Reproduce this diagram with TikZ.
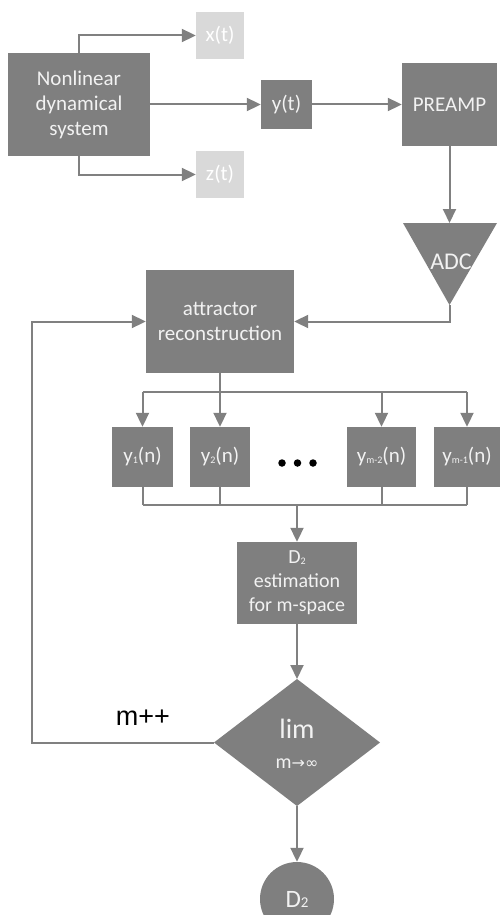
\documentclass[tikz,border=0pt]{standalone}
\usepackage{fontspec}
\setmainfont{Carlito}
\newfontfamily\arialfont{Liberation Sans}
\newfontfamily\symfont{DejaVu Sans}
\usetikzlibrary{arrows.meta}
\definecolor{boxgray}{HTML}{7F7F7F}
\definecolor{lightbox}{HTML}{D9D9D9}
\definecolor{linegray}{HTML}{808080}
\definecolor{txtlight}{HTML}{F2F2F2}
\newcommand{\sbs}[1]{{\fontsize{10}{10}\selectfont\raisebox{-0.5pt}{#1}}}
\begin{document}
\begin{tikzpicture}[x=1pt,y=-1pt,
  dbox/.style={fill=boxgray,draw=none,inner sep=0pt,text=txtlight,align=center,
    font=\fontsize{21}{25}\selectfont},
  lbox/.style={fill=lightbox,draw=none,inner sep=0pt,text=white,
    font=\fontsize{21}{25}\selectfont},
  arr/.style={draw=linegray,line width=2pt,-{Triangle[length=14pt,width=13pt]}},
  ln/.style={draw=linegray,line width=2pt},
  dotb/.style={circle,fill=black,inner sep=0pt,minimum size=7.5pt}]
\useasboundingbox (0,0) rectangle (501,915);

% top row
\node[dbox,minimum width=142pt,minimum height=103pt] (sys) at (79,104.5) {Nonlinear\\dynamical\\system};
\node[lbox,minimum width=48pt,minimum height=47pt] (xt) at (220,35.5) {x(t)};
\node[lbox,minimum width=48pt,minimum height=47pt] (zt) at (220,174.5) {z(t)};
\node[dbox,minimum width=51pt,minimum height=49pt] (yt) at (286.5,104.5) {y(t)};
\node[dbox,minimum width=95pt,minimum height=83pt] (pre) at (449.5,104.5) {PREAMP};

% ADC triangle
\coordinate (adcTL) at (403,223);
\coordinate (adcTR) at (497,223);
\coordinate (adcTop) at (449.5,223);
\coordinate (adcTip) at (449.5,305);
\fill[boxgray] (adcTL) -- (adcTR) -- (adcTip) -- cycle;
\node[text=txtlight,font=\fontsize{24}{24}\selectfont] (adc) at (451,262) {ADC};

% attractor
\node[dbox,minimum width=148pt,minimum height=103pt] (att) at (220,321.5) {attractor\\reconstruction};

% embedding boxes
\node[dbox,minimum width=61pt,minimum height=60pt] (y1) at (142.5,457) {y\sbs{1}(n)};
\node[dbox,minimum width=60pt,minimum height=60pt] (y2) at (220,457) {y\sbs{2}(n)};
\node[dbox,minimum width=69pt,minimum height=60pt] (ym2) at (381.5,457) {y\sbs{m-2}(n)};
\node[dbox,minimum width=66pt,minimum height=60pt] (ym1) at (467,457) {y\sbs{m-1}(n)};
\node[dotb] (d1) at (282,463) {};
\node[dotb] (d2) at (297.5,463) {};
\node[dotb] (d3) at (313,463) {};

% D2 estimation
\node[dbox,minimum width=120pt,minimum height=82pt,font=\fontsize{20}{24}\selectfont] (d2e) at (297,583) {D\sbs{2}\\estimation\\for m-space};

% diamond
\coordinate (dTop) at (297,679);
\coordinate (dRight) at (380,742.5);
\coordinate (dBot) at (297,806);
\coordinate (dLeft) at (214,742.5);
\fill[boxgray] (dTop) -- (dRight) -- (dBot) -- (dLeft) -- cycle;
\node[text=txtlight,inner sep=0pt,font=\fontsize{28}{28}\selectfont] (lim) at (297,729) {lim};
\node[text=txtlight,inner sep=0pt,font=\fontsize{20}{20}\selectfont] (limsub) at (297,764) {m{\symfont\fontsize{16}{16}\selectfont →∞}};

% result circle
\node[circle,fill=boxgray,inner sep=0pt,minimum size=74pt,text=txtlight,
  font=\fontsize{25}{25}\selectfont] (res) at (297,899) {D{\fontsize{15}{15}\selectfont 2}};

% label
\node[text=black,font=\arialfont\fontsize{27}{27}\selectfont] (mpp) at (143,718) {m++};

% connectors top
\draw[arr] (sys.north) |- (xt.west);
\draw[arr] (sys.south) |- (zt.west);
\draw[arr] (sys.east) -- (yt.west);
\draw[arr] (yt.east) -- (pre.west);
\draw[arr] (pre.south) -- (adcTop);
\draw[arr] (adcTip) |- (att.east);

% bus down
\coordinate (busT) at (220,392);
\coordinate (busTL) at (142.5,392);
\coordinate (busTR) at (467,392);
\draw[ln] (att.south) -- (busT);
\draw[ln] (busTL) -- (busTR);
\draw[arr] (busTL) -- (y1.north);
\draw[arr] (busT) -- (y2.north);
\draw[arr] (ym2.north |- busT) -- (ym2.north);
\draw[arr] (busTR) -- (ym1.north);

% bus up
\coordinate (busB) at (297,505);
\coordinate (busBL) at (142.5,505);
\coordinate (busBR) at (467,505);
\draw[ln] (y1.south) -- (busBL);
\draw[ln] (y2.south) -- (y2.south |- busB);
\draw[ln] (ym2.south) -- (ym2.south |- busB);
\draw[ln] (ym1.south) -- (busBR);
\draw[ln] (busBL) -- (busBR);
\draw[arr] (busB) -- (d2e.north);

\draw[arr] (d2e.south) -- (dTop);
\draw[arr] (dBot) -- (res.north);

% feedback
\coordinate (fbB) at (32,742.5);
\coordinate (fbT) at (32,321.5);
\draw[arr] (dLeft) -- (fbB) -- (fbT) -- (att.west);
\end{tikzpicture}
\end{document}
